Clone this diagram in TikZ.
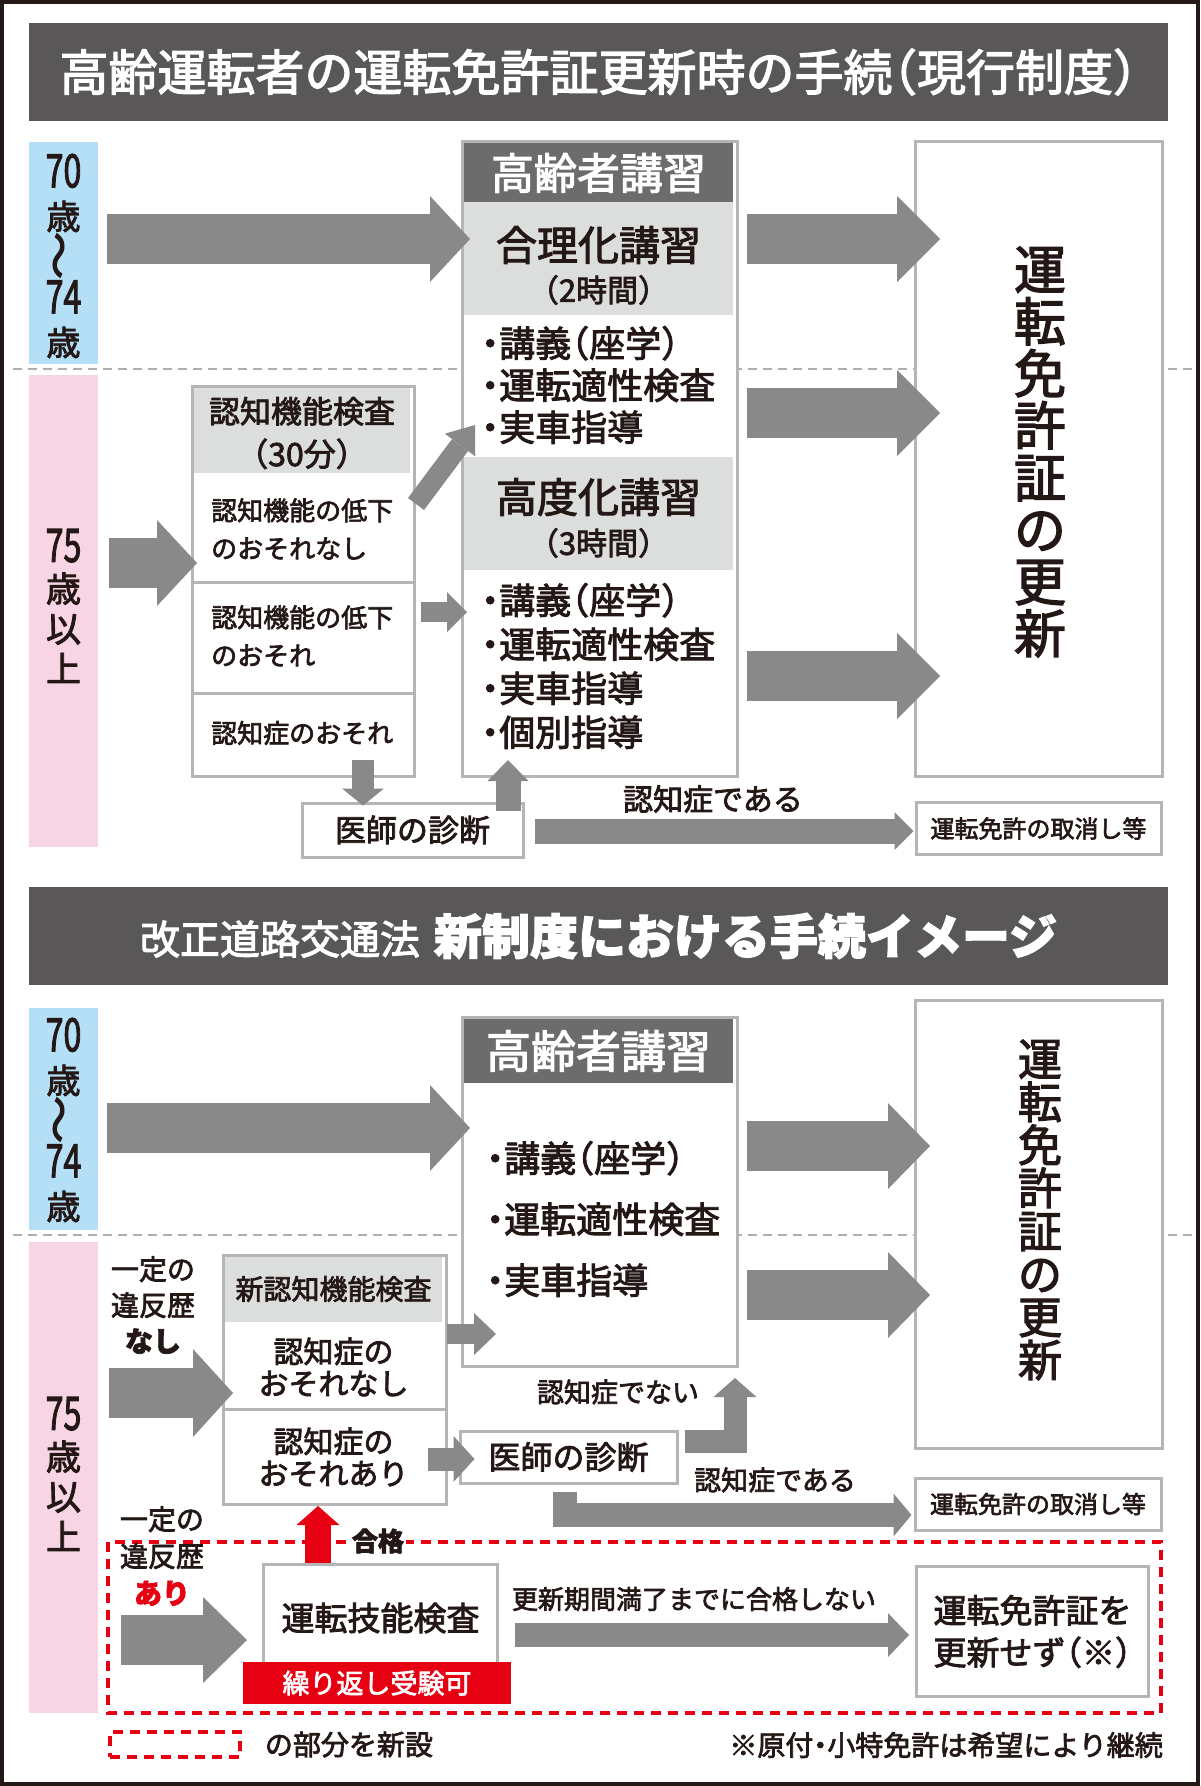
\documentclass[tikz,border=0pt]{standalone}
\usepackage{fontspec}
\setmainfont{Noto Sans CJK JP}[RawFeature=+halt,FakeBold=2.5]
\usetikzlibrary{arrows.meta,positioning}

\definecolor{frameclr}{RGB}{35,24,21}
\definecolor{inkclr}{RGB}{35,24,21}
\definecolor{titlegray}{RGB}{89,87,87}
\definecolor{headgray}{RGB}{108,108,108}
\definecolor{bandgray}{RGB}{220,221,221}
\definecolor{boxgray}{RGB}{181,181,182}
\definecolor{arrowgray}{RGB}{137,137,137}
\definecolor{dashgray}{RGB}{175,175,175}
\definecolor{ageblue}{RGB}{180,223,246}
\definecolor{agepink}{RGB}{248,213,229}
\definecolor{newred}{RGB}{230,0,18}

\newcommand\fsz[2]{\fontsize{#1}{#2}\selectfont}
\newcommand\dig[1]{{\fsz{46}{42}\scalebox{0.7}[1]{#1}}}
\newcommand\wave{\raisebox{-8pt}[0pt][0pt]{\rotatebox{90}{\scalebox{1.4}[1.2]{～}}}}

\tikzset{
  titlebar/.style={fill=titlegray, text=white, minimum width=1139pt, minimum height=98pt, inner sep=0pt},
  agebox/.style={minimum width=69pt, inner sep=0pt},
  box/.style={draw=boxgray, line width=3pt, fill=white, text=inkclr, inner sep=0pt},
  txt/.style={text=inkclr, inner sep=0pt},
  blockarrow/.style n args={3}{draw=arrowgray, line width=#1, -{Triangle[length=#2,width=#3,line width=0pt]}},
  bigarrow/.style={blockarrow={50pt}{40pt}{86pt}},
  sepline/.style={dashgray, line width=2pt, dash pattern=on 9pt off 6pt},
  newpart/.style={newred, line width=3.5pt, dash pattern=on 10pt off 7pt}
}

\begin{document}
\begin{tikzpicture}[x=1pt,y=-1pt]
\useasboundingbox (0,0) rectangle (1200,1786);
\fill[white] (0,0) rectangle (1200,1786);
\draw[frameclr, line width=4pt] (2,2) rectangle (1198,1784);

\node[titlebar] (title1) at (598.5,72) {\fsz{49}{49}高齢運転者の運転免許証更新時の手続（現行制度）};
\node[titlebar] (title2) at (598.5,936) {\fsz{40}{40}改正道路交通法\hspace{14pt}\fsz{48}{48}\bfseries 新制度における手続イメージ};

\draw[sepline] (13,369) -- (1193,369);
\draw[sepline] (13,1235) -- (1193,1235);
\draw[newpart] (108,1542) rectangle (1161,1713);

\node[agebox, fill=ageblue, minimum height=222pt] (yng1) at (63.5,253) {};
\node[agebox, fill=agepink, minimum height=472pt] (old1) at (63.5,611) {};
\node[agebox, fill=ageblue, minimum height=222pt] (yng2) at (63.5,1119) {};
\node[agebox, fill=agepink, minimum height=471pt] (old2) at (63.5,1477.5) {};
\node[txt, align=center, font=\fsz{34}{42}] (yng1t) at (63.5,256) {\dig{70}\\歳\\\wave\\\dig{74}\\歳};
\node[txt, align=center, font=\fsz{35}{40}] (old1t) at (63.5,606) {\dig{75}\\歳\\以\\上};
\node[txt, align=center, font=\fsz{34}{42}] (yng2t) at (63.5,1120) {\dig{70}\\歳\\\wave\\\dig{74}\\歳};
\node[txt, align=center, font=\fsz{35}{40}] (old2t) at (63.5,1474) {\dig{75}\\歳\\以\\上};

\node[box, anchor=north west, minimum width=275pt, minimum height=635pt] (lect1) at (461,140) {};
\fill[headgray] (464,143) rectangle (733,202);
\fill[bandgray] (464,202) rectangle (733,315);
\fill[bandgray] (464,457) rectangle (733,570);
\node[box, anchor=north west, minimum width=247pt, minimum height=635pt] (renew1) at (914,140) {};
\node[box, anchor=north west, minimum width=222pt, minimum height=390pt] (cog1) at (191,385) {};
\fill[bandgray] (194,388) rectangle (410,473);
\draw[boxgray, line width=3pt] (cog1.west |- 0,582) -- (cog1.east |- 0,582);
\draw[boxgray, line width=3pt] (cog1.west |- 0,693) -- (cog1.east |- 0,693);
\node[box, minimum width=221pt, minimum height=54pt, font=\fsz{31}{31}] (doc1) at (412.5,830) {医師の診断};
\node[box, minimum width=245pt, minimum height=52pt, font=\fsz{24}{24}] (cancel1) at (1038.5,828.5) {運転免許の取消し等};

\node[txt, text=white, font=\fsz{43}{43}] (hdr1) at (598.5,173) {高齢者講習};
\node[txt, font=\fsz{41}{41}] (basic) at (598.5,245) {合理化講習};
\node[txt, font=\fsz{31}{31}] (basich) at (598.5,290) {（2時間）};
\node[txt, anchor=west, align=left, font=\fsz{36}{42}] (basicl) at (481,385) {・講義（座学）\\・運転適性検査\\・実車指導};
\node[txt, font=\fsz{41}{41}] (adv) at (598.5,497) {高度化講習};
\node[txt, font=\fsz{31}{31}] (advh) at (598.5,543) {（3時間）};
\node[txt, anchor=west, align=left, font=\fsz{36}{44}] (advl) at (481,666) {・講義（座学）\\・運転適性検査\\・実車指導\\・個別指導};
\node[txt, align=center, font=\fsz{52}{52}] (renew1t) at (1040,452) {運\\転\\免\\許\\証\\の\\更\\新};
\node[txt, align=center, font=\fsz{31}{43}] (cogq1) at (302,433) {認知機能検査\\{\fsz{32}{43}（30分）}};
\node[txt, anchor=west, align=left, font=\fsz{26}{38}] (cogr1) at (211,529) {認知機能の低下\\のおそれなし};
\node[txt, anchor=west, align=left, font=\fsz{26}{38}] (cogr2) at (211,636) {認知機能の低下\\のおそれ};
\node[txt, anchor=west, font=\fsz{26}{26}] (cogr3) at (211,733) {認知症のおそれ};
\node[txt, font=\fsz{30}{30}] (dem1) at (713,799) {認知症である};

\draw[bigarrow] ([xshift=9pt]yng1.east |- 0,239) -- ([xshift=9pt]lect1.west |- 0,239);
\foreach \yy in {239,413,676}
  \draw[blockarrow={50pt}{43pt}{86pt}] ([xshift=8pt]lect1.east |- 0,\yy) -- ([xshift=26pt]renew1.west |- 0,\yy);
\draw[bigarrow] ([xshift=11pt]old1.east |- 0,563) -- ([xshift=6pt]cog1.west |- 0,563);
\draw[blockarrow={20pt}{25pt}{38pt}] (cog1.east |- 0,504) -- ([xshift=14pt]lect1.west |- 0,425);
\draw[blockarrow={20pt}{20pt}{40pt}] ([xshift=5pt]cog1.east |- 0,612) -- ([xshift=6pt]lect1.west |- 0,612);
\draw[blockarrow={22pt}{17pt}{42pt}] ([yshift=18pt]cog1.south -| 363,0) -- ([yshift=-4pt]doc1.north -| 363,0);
\draw[blockarrow={25pt}{21pt}{41pt}] ([yshift=-9pt]doc1.north -| 508,0) -- ([yshift=18pt]lect1.south -| 508,0);
\draw[blockarrow={25pt}{19pt}{38pt}] ([xshift=10pt]doc1.east |- 0,831) -- ([xshift=-1pt]cancel1.west |- 0,831);

\node[box, anchor=north west, minimum width=275pt, minimum height=349pt] (lect2) at (461,1016) {};
\fill[headgray] (464,1019) rectangle (733,1083);
\node[box, anchor=north west, minimum width=247pt, minimum height=448pt] (renew2) at (914,999) {};
\node[box, anchor=north west, minimum width=223pt, minimum height=249pt] (cog2) at (222,1254) {};
\fill[bandgray] (225,1257) rectangle (442,1322);
\draw[boxgray, line width=3pt] (cog2.west |- 0,1409) -- (cog2.east |- 0,1409);
\node[box, minimum width=217pt, minimum height=52pt, font=\fsz{32}{32}] (doc2) at (568.5,1457) {医師の診断};
\node[box, minimum width=246pt, minimum height=52pt, font=\fsz{24}{24}] (cancel2) at (1038,1504) {運転免許の取消し等};
\node[box, anchor=north west, minimum width=234pt, minimum height=107pt, font=\fsz{33}{33}] (skill) at (262,1563) {運転技能検査};
\node[fill=newred, text=white, minimum width=268pt, minimum height=42pt, inner sep=0pt, font=\fsz{27}{27}] (retry) at (377,1683) {繰り返し受験可};
\node[box, anchor=north west, minimum width=232pt, minimum height=130pt, align=left, font=\fsz{33}{42}] (norenew) at (915,1565) {運転免許証を\\更新せず（※）};

\node[txt, text=white, font=\fsz{45}{45}] (hdr2) at (598.5,1051) {高齢者講習};
\node[txt, anchor=west, align=left, font=\fsz{36}{61}] (lect2l) at (486,1219) {・講義（座学）\\・運転適性検査\\・実車指導};
\node[txt, align=center, font=\fsz{44}{43}] (renew2t) at (1040,1210) {運\\転\\免\\許\\証\\の\\更\\新};
\node[txt, align=center, font=\fsz{28}{36}] (nasi) at (153,1305) {一定の\\違反歴\\{\bfseries なし}};
\node[txt, font=\fsz{28}{28}] (cogq2) at (333.5,1289) {新認知機能検査};
\node[txt, align=center, font=\fsz{30}{32}] (cogs1) at (333.5,1367) {認知症の\\おそれなし};
\node[txt, align=center, font=\fsz{30}{32}] (cogs2) at (333.5,1457) {認知症の\\おそれあり};
\node[txt, font=\fsz{27}{27}] (nodem2) at (618,1392) {認知症でない};
\node[txt, font=\fsz{27}{27}] (dem2) at (775,1480) {認知症である};
\node[txt, align=center, font=\fsz{28}{37}] (ari) at (162,1556) {一定の\\違反歴\\{\color{newred}\bfseries あり}};
\node[txt, font=\fsz{26}{26}] (fail) at (694,1599) {更新期間満了までに合格しない};

\draw[bigarrow] ([xshift=9pt]yng2.east |- 0,1128) -- ([xshift=9pt]lect2.west |- 0,1128);
\foreach \yy in {1146,1295}
  \draw[blockarrow={50pt}{42pt}{86pt}] ([xshift=8pt]lect2.east |- 0,\yy) -- ([xshift=16pt]renew2.west |- 0,\yy);
\draw[blockarrow={50pt}{40pt}{88pt}] ([xshift=11pt]old2.east |- 0,1393) -- ([xshift=11pt]cog2.west |- 0,1393);
\draw[blockarrow={20pt}{22pt}{42pt}] ([xshift=-1pt]cog2.east |- 0,1334) -- ([xshift=35pt]lect2.west |- 0,1334);
\draw[blockarrow={23pt}{21pt}{46pt}] ([xshift=-20pt]cog2.east |- 0,1459) -- ([xshift=16pt]doc2.west |- 0,1459);
\draw[blockarrow={23pt}{19pt}{43pt}] ([xshift=6pt]doc2.east |- 0,1441) -| ([yshift=-10pt]lect2.south -| 735,0);
\draw[blockarrow={24pt}{18pt}{43pt}] ([yshift=-7pt]doc2.south -| 565,0) |- ([xshift=-2pt]cancel2.west |- 0,1515);
\draw[blockarrow={50pt}{44pt}{86pt}] ([xshift=23pt]old2.east |- 0,1640) -- ([xshift=-15pt]skill.west |- 0,1640);
\draw[blockarrow={26pt}{19pt}{43pt}, draw=newred] (skill.north -| 318,0) -- (cog2.south -| 318,0);
\draw[blockarrow={24pt}{21pt}{44pt}] ([xshift=16pt]skill.east |- 0,1635) -- ([xshift=-6pt]norenew.west |- 0,1635);
\node[txt, fill=white, inner sep=2pt, font=\fsz{26}{26}\bfseries] (pass) at (378,1541) {合格};

\node[newpart, draw, minimum width=130pt, minimum height=25pt, inner sep=0pt] (legend) at (175,1744.5) {};
\node[txt, right=23pt of legend, font=\fsz{28}{28}] (legendt) {の部分を新設};
\node[txt, anchor=east, font=\fsz{28}{28}] (note) at (1163,1745) {※原付・小特免許は希望により継続};
\end{tikzpicture}
\end{document}
